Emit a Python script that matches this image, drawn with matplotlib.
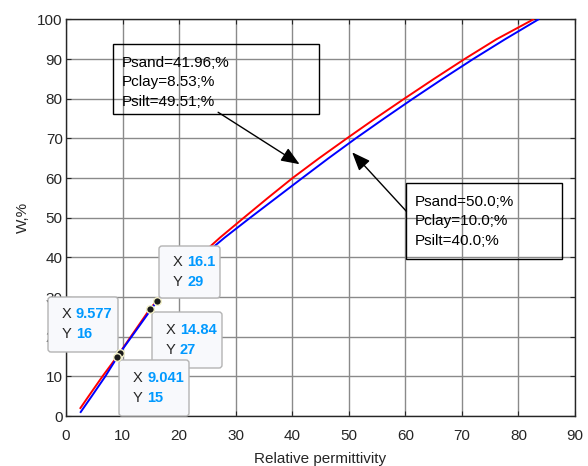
import matplotlib
matplotlib.use('Agg')
import matplotlib.pyplot as plt
from matplotlib.patches import FancyBboxPatch, Rectangle
from matplotlib.transforms import Affine2D

plt.rcParams['font.family'] = ['Liberation Sans', 'DejaVu Sans']

# curve 1 (red): Psand=41.96, Pclay=8.53, Psilt=49.51
red_eps = [2.55, 4.0, 6.45, 9.041, 11.45, 14.84, 18.44, 23.34, 27.24, 31.44, 35.69,
           40.04, 44.74, 49.64, 54.64, 59.79, 65.04, 70.44, 76.09, 82.6]
red_w = [2, 5, 10, 15, 20, 27, 33, 40, 45, 50, 55, 60, 65, 70, 75, 80, 85, 90, 95, 100]
# curve 2 (blue): Psand=50, Pclay=10, Psilt=40
blue_eps = [2.6, 4.55, 6.95, 9.577, 12.6, 16.1, 20.06, 23.86, 28.06, 32.56, 37.16,
            41.76, 46.41, 51.21, 56.21, 61.31, 66.56, 71.96, 77.61, 83.5]
blue_w = [1, 5, 10, 16, 22, 29, 35, 40, 45, 50, 55, 60, 65, 70, 75, 80, 85, 90, 95, 100]

# data tips
tip_x = [16.1, 9.577, 14.84, 9.041]
tip_y = [29, 16, 27, 15]
tip_xlab = ['16.1', '9.577', '14.84', '9.041']
tip_ylab = ['29', '16', '27', '15']

note_red = ['Psand=41.96;%', 'Pclay=8.53;%', 'Psilt=49.51;%']
note_blue = ['Psand=50.0;%', 'Pclay=10.0;%', 'Psilt=40.0;%']

W, H = 588, 466
fig = plt.figure(figsize=(W / 100, H / 100), dpi=100)
ax = fig.add_axes([66 / W, (H - 416) / H, 509 / W, 396.5 / H])
pix = Affine2D().scale(1, -1).translate(0, H)  # top-left pixel coordinates

dark = '#262626'
ax.plot(red_eps, red_w, color='red', lw=1.4, zorder=3)
ax.plot(blue_eps, blue_w, color='blue', lw=1.4, zorder=3)

ax.set_xlim(0, 90)
ax.set_ylim(0, 100)
ax.set_xticks(range(0, 91, 10))
ax.set_yticks(range(0, 101, 10))
ax.grid(True, color='#8a8a8a', lw=1.0)
ax.tick_params(direction='in', length=3.5, width=0.8, colors=dark, labelsize=11,
               top=True, right=True)
ax.tick_params(axis='x', pad=9)
ax.tick_params(axis='y', pad=2.4)
for s in ax.spines.values():
    s.set_color(dark)
    s.set_linewidth(1.0)

ax.set_xlabel('Relative permittivity', fontsize=11, color=dark)
ax.set_ylabel('W,%', fontsize=11, color=dark)
ax.xaxis.set_label_coords(0.5, -0.092)
ax.yaxis.set_label_coords(-0.07, 0.5)

# text boxes with arrows
ax.add_artist(Rectangle((113, 44), 206, 70, transform=pix, fill=False,
                        ec='black', lw=1.0, clip_on=False, zorder=4))
for i, s in enumerate(note_red):
    ax.text(122, 62.7 + i * 19.5, s, transform=pix, va='center', ha='left',
            fontsize=11, color='black', zorder=4)
ax.add_artist(Rectangle((406, 183), 156, 76, transform=pix, fill=False,
                        ec='black', lw=1.0, clip_on=False, zorder=4))
for i, s in enumerate(note_blue):
    ax.text(415, 201.7 + i * 19.8, s, transform=pix, va='center', ha='left',
            fontsize=11, color='black', zorder=4)

arrow = dict(arrowstyle='-|>,head_length=0.75,head_width=0.3', color='black',
             lw=1.0, mutation_scale=15, shrinkA=0, shrinkB=0)
ax.annotate('', xy=(41.3, 63.5), xytext=(26.9, 76.6), arrowprops=arrow, zorder=4)
ax.annotate('', xy=(50.6, 66.5), xytext=(60.2, 51.6), arrowprops=arrow, zorder=4)

# data tip boxes (left, top, width, height in pixels)
tip_boxes = [(159, 246, 61, 52), (48, 297, 70, 55), (152, 312, 70, 56), (119, 360, 70, 56)]
for (bx, by, bw, bh), xl, yl in zip(tip_boxes, tip_xlab, tip_ylab):
    ax.add_artist(FancyBboxPatch((bx, by), bw, bh, transform=pix,
                                 boxstyle='round,pad=0,rounding_size=3',
                                 fc='#f8f9fc', ec='#b4b4b4', lw=1.0,
                                 clip_on=False, zorder=5))
    for j, (k, v) in enumerate([('X', xl), ('Y', yl)]):
        yy = by + bh / 2 - 10 + j * 20
        ax.text(bx + 14, yy, k, transform=pix, va='center', ha='left',
                fontsize=10.5, color=dark, zorder=6)
        ax.text(bx + 28, yy, v, transform=pix, va='center', ha='left',
                fontsize=10.5, color='#0099ff', fontweight='bold', zorder=6)

ax.plot(tip_x, tip_y, 'o', ms=5.5, mfc='#1a1a1a', mec='#f2f0c8', mew=1.0,
        zorder=7, clip_on=False)

fig.savefig('out.png', dpi=100)
